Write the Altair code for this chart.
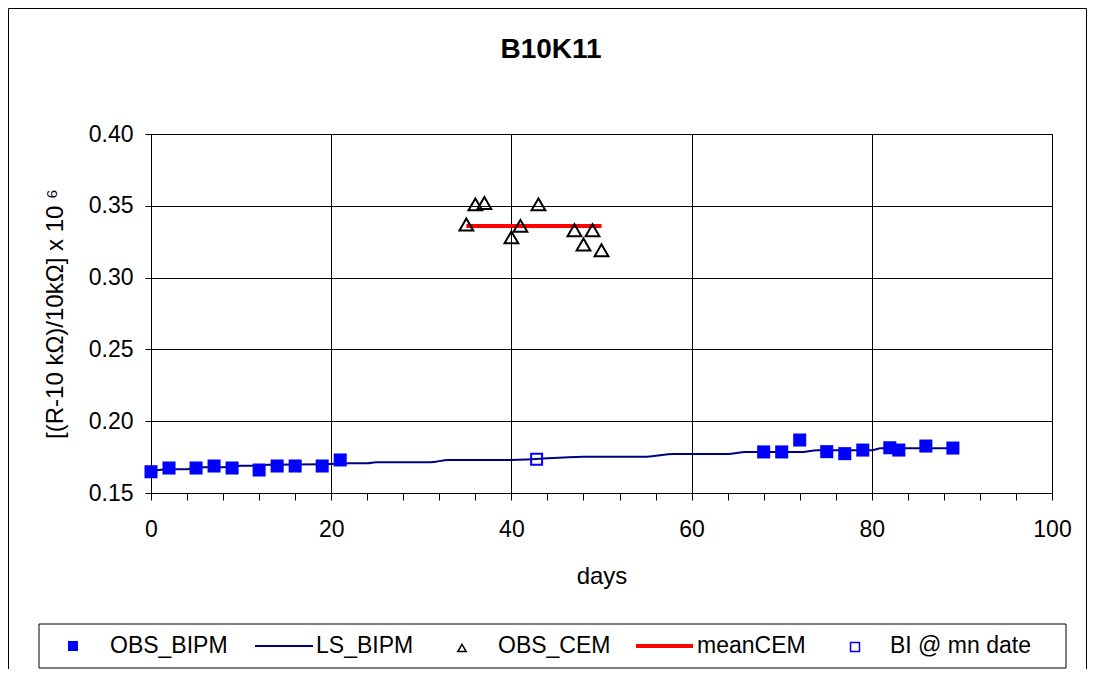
import altair as alt
import pandas as pd

# ---------------- data ----------------
bipm_days = [0, 2, 5, 7, 9, 12, 14, 16, 19, 21, 68, 70, 72, 75, 77, 79, 82, 83, 86, 89]
bipm_vals = [0.1648, 0.1674, 0.1674, 0.1688, 0.1674, 0.1660, 0.1688, 0.1688, 0.1688, 0.1730,
             0.1786, 0.1786, 0.1869, 0.1788, 0.1774, 0.1799, 0.1815, 0.1799, 0.1827, 0.1813]

ls_days = [0, 2, 4, 5, 8, 10, 11, 13, 19, 22, 24, 25, 31, 33, 40, 48, 55, 58, 64, 66, 72, 74, 80, 81, 89]
ls_vals = [0.1653, 0.1665, 0.1665, 0.1679, 0.1679, 0.1690, 0.1690, 0.1697, 0.1700, 0.1707,
           0.1707, 0.1714, 0.1714, 0.1730, 0.1730, 0.1753, 0.1753, 0.1772, 0.1772, 0.1785,
           0.1785, 0.1797, 0.1797, 0.1812, 0.1812]

cem_days = [35, 36, 37, 40, 41, 43, 47, 48, 49, 50]
cem_vals = [0.337, 0.351, 0.352, 0.328, 0.336, 0.351, 0.333, 0.323, 0.333, 0.319]

mean_cem_days = [35, 50]
mean_cem_vals = [0.336, 0.336]

bi_days = [42.8]
bi_vals = [0.1735]

chart_title = "B10K11"
x_title = "days"
y_title = "[(R-10 kΩ)/10kΩ] x 10 ⁶"
legend_labels = ["OBS_BIPM", "LS_BIPM", "OBS_CEM", "meanCEM", "BI @ mn date"]

# ---------------- layout ----------------
FONT = "Liberation Sans"
W, H = 901, 359
BLUE = "#0000FF"
NAVY = "#000080"
RED = "#FF0000"
TICK_FS = 23
AXT_FS = 24
LEG_FS = 23

x_scale = alt.Scale(domain=[0, 100], nice=False, zero=False)
y_scale = alt.Scale(domain=[0.15, 0.40], nice=False, zero=False)

x_axis = alt.Axis(
    values=list(range(0, 101, 4)),
    labelExpr="datum.value % 20 == 0 ? datum.label : ''",
    labelOverlap=False, labelFlush=False,
    grid=True, gridColor="black", gridWidth=1,
    gridOpacity={"condition": {"test": "datum.value % 20 == 0", "value": 1}, "value": 0},
    domainColor="black", tickColor="black", tickSize=7,
    labelFont=FONT, labelFontSize=TICK_FS, labelColor="black", labelPadding=18,
    title=x_title, titleFont=FONT, titleFontSize=AXT_FS, titleFontWeight="normal",
    titleColor="black", titleY=83, titleBaseline="middle",
)
y_axis = alt.Axis(
    values=[0.15, 0.20, 0.25, 0.30, 0.35, 0.40], format=".2f",
    grid=True, gridColor="black", gridWidth=1,
    domainColor="black", tickColor="black", tickSize=6,
    labelFont=FONT, labelFontSize=TICK_FS, labelColor="black", labelPadding=12,
    title=y_title, titleFont=FONT, titleFontSize=AXT_FS, titleFontWeight="normal",
    titleColor="black", titleAngle=270, titleX=-96, titleY=179.5,
    titleAlign="center", titleBaseline="middle",
)

df_bipm = pd.DataFrame({"day": bipm_days, "val": bipm_vals})
df_ls = pd.DataFrame({"day": ls_days, "val": ls_vals})
df_cem = pd.DataFrame({"day": cem_days, "val": cem_vals})
df_mean = pd.DataFrame({"day": mean_cem_days, "val": mean_cem_vals})
df_bi = pd.DataFrame({"day": bi_days, "val": bi_vals})

X = alt.X("day:Q", scale=x_scale, axis=x_axis)
Y = alt.Y("val:Q", scale=y_scale, axis=y_axis)

ls_line = alt.Chart(df_ls).mark_line(color=NAVY, strokeWidth=2, interpolate="monotone").encode(x=X, y=Y)
bipm_pts = alt.Chart(df_bipm).mark_point(shape="square", filled=True, color=BLUE, size=170, opacity=1).encode(x=X, y=Y)
mean_line = alt.Chart(df_mean).mark_line(color=RED, strokeWidth=4).encode(x=X, y=Y)
cem_pts = alt.Chart(df_cem).mark_point(shape="triangle-up", filled=False, color="black",
                                       strokeWidth=2, size=190, opacity=1).encode(x=X, y=Y)
bi_pts = alt.Chart(df_bi).mark_point(shape="square", filled=False, color=BLUE,
                                     strokeWidth=2, size=120, opacity=1).encode(x=X, y=Y)

# ---------------- title ----------------
title_layer = alt.Chart(pd.DataFrame({"t": [chart_title]})).mark_text(
    font=FONT, fontSize=28, fontWeight="bold", color="black", align="center", baseline="middle"
).encode(x=alt.value(400), y=alt.value(-84), text="t:N")

# ---------------- chart border (outer frame) ----------------
one = pd.DataFrame({"k": [0]})
frame = [
    alt.Chart(one).mark_rule(color="black", strokeWidth=1).encode(
        x=alt.value(-142.5), y=alt.value(-125.5), y2=alt.value(536)),
    alt.Chart(one).mark_rule(color="black", strokeWidth=1).encode(
        x=alt.value(-142.5), x2=alt.value(935.5), y=alt.value(-125.5)),
    alt.Chart(one).mark_rule(color="black", strokeWidth=1).encode(
        x=alt.value(935.5), y=alt.value(-125.5), y2=alt.value(536)),
]

# ---------------- legend (drawn by hand) ----------------
LY = 512
legend_box = alt.Chart(one).mark_rect(fill="white", stroke="black", strokeWidth=1).encode(
    x=alt.value(-112), x2=alt.value(915), y=alt.value(490), y2=alt.value(534))
leg_sym = [
    alt.Chart(one).mark_point(shape="square", filled=True, color=BLUE, size=100, opacity=1).encode(
        x=alt.value(-78), y=alt.value(LY)),
    alt.Chart(one).mark_rule(color=NAVY, strokeWidth=2).encode(
        x=alt.value(104), x2=alt.value(162), y=alt.value(LY)),
    alt.Chart(one).mark_point(shape="triangle-up", filled=False, color="black", strokeWidth=1.5,
                              size=70, opacity=1).encode(x=alt.value(311), y=alt.value(LY + 2)),
    alt.Chart(one).mark_rule(color=RED, strokeWidth=4).encode(
        x=alt.value(485), x2=alt.value(542), y=alt.value(LY)),
    alt.Chart(one).mark_point(shape="square", filled=False, color=BLUE, strokeWidth=1.5,
                              size=80, opacity=1).encode(x=alt.value(704), y=alt.value(LY + 1)),
]
legend_text_x = [-41, 165, 347, 546, 739]
leg_txt = [
    alt.Chart(pd.DataFrame({"t": [lab]})).mark_text(
        font=FONT, fontSize=LEG_FS, color="black", align="left", baseline="middle"
    ).encode(x=alt.value(px), y=alt.value(LY), text="t:N")
    for lab, px in zip(legend_labels, legend_text_x)
]

chart = alt.layer(
    ls_line, bipm_pts, mean_line, cem_pts, bi_pts,
    title_layer, *frame, legend_box, *leg_sym, *leg_txt,
).properties(
    width=W, height=H,
    autosize=alt.AutoSizeParams(type="none"),
    padding={"left": 143, "top": 126, "right": 36, "bottom": 176},
    background="white",
).configure_view(stroke="black", strokeWidth=1)

chart.save("out.html", embed_options={"renderer": "svg", "actions": False})
